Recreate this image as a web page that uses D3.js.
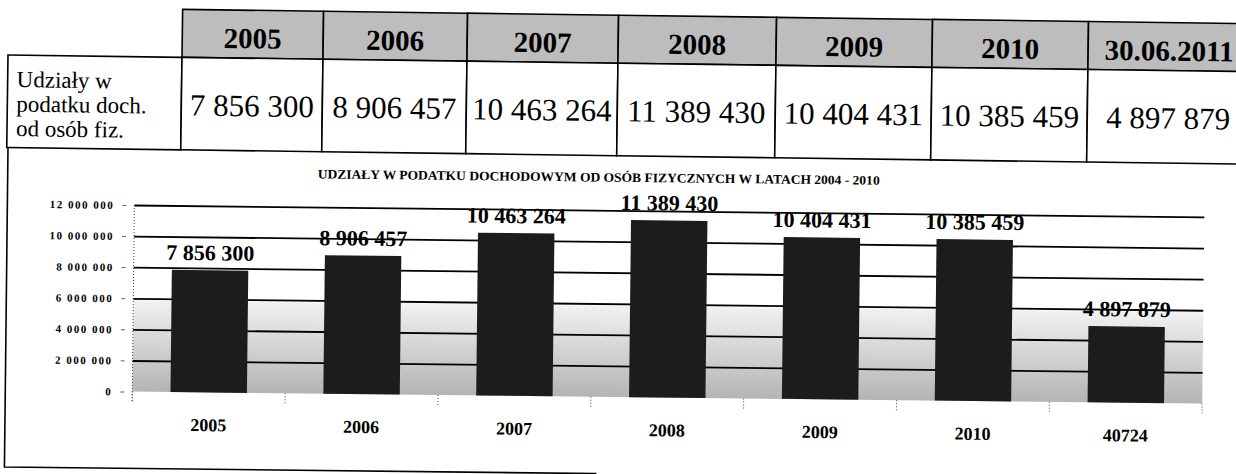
<!DOCTYPE html>
<html>
<head>
<meta charset="utf-8">
<script src="https://cdn.jsdelivr.net/npm/d3@7"></script>
<style>
  body { margin: 0; background: #fff; }
  svg { display: block; }
</style>
</head>
<body>
<script>
// dane
const headerLabels = ["2005", "2006", "2007", "2008", "2009", "2010", "30.06.2011"];
const values = [7856300, 8906457, 10463264, 11389430, 10404431, 10385459, 4897879];
const chartLabels = ["2005", "2006", "2007", "2008", "2009", "2010", "40724"];
const yTicks = [0, 2000000, 4000000, 6000000, 8000000, 10000000, 12000000];
const rowLabel = ["Udziały w", "podatku doch.", "od osób fiz."];
const chartTitle = "UDZIAŁY W PODATKU DOCHODOWYM OD OSÓB FIZYCZNYCH W LATACH 2004 - 2010";

const width = 1236;
const height = 474;
const serif = "'Liberation Serif','Times New Roman',serif";
const fmt = d3.formatLocale({ decimal: ",", thousands: " ", grouping: [3], currency: ["", ""] }).format(",d");

const svg = d3.select("body").append("svg")
  .attr("width", width)
  .attr("height", height);

// tabela (skan lekko przekrzywiony)
const colEdges = [182, 323, 467, 618, 776, 932, 1088, 1250];
const hTop = 7, hBot = 55, dBot = 147.5;
const tbl = svg.append("g").attr("transform", "rotate(0.77,8,55)");

tbl.selectAll("rect.hdr")
  .data(headerLabels)
  .join("rect")
  .attr("class", "hdr")
  .attr("x", (d, i) => colEdges[i])
  .attr("y", hTop)
  .attr("width", (d, i) => colEdges[i + 1] - colEdges[i])
  .attr("height", hBot - hTop)
  .attr("fill", "#bdbdbd")
  .attr("stroke", "#000")
  .attr("stroke-width", 1.6);

tbl.selectAll("text.hdr")
  .data(headerLabels)
  .join("text")
  .attr("class", "hdr")
  .attr("x", (d, i) => (colEdges[i] + colEdges[i + 1]) / 2)
  .attr("y", 45)
  .attr("text-anchor", "middle")
  .attr("font-family", serif)
  .attr("font-weight", "bold")
  .attr("font-size", 29)
  .text(d => d);

tbl.append("rect")
  .attr("x", 8).attr("y", hBot)
  .attr("width", colEdges[0] - 8).attr("height", dBot - hBot)
  .attr("fill", "#fff").attr("stroke", "#000").attr("stroke-width", 1.6);

tbl.selectAll("rect.val")
  .data(values)
  .join("rect")
  .attr("class", "val")
  .attr("x", (d, i) => colEdges[i])
  .attr("y", hBot)
  .attr("width", (d, i) => colEdges[i + 1] - colEdges[i])
  .attr("height", dBot - hBot)
  .attr("fill", "#fff")
  .attr("stroke", "#000")
  .attr("stroke-width", 1.6);

tbl.selectAll("text.val")
  .data(values)
  .join("text")
  .attr("class", "val")
  .attr("x", (d, i) => (colEdges[i] + colEdges[i + 1]) / 2)
  .attr("y", 113)
  .attr("text-anchor", "middle")
  .attr("font-family", serif)
  .attr("font-size", 31)
  .text(d => fmt(d));

tbl.append("text")
  .attr("font-family", serif)
  .attr("font-size", 23)
  .selectAll("tspan")
  .data(rowLabel)
  .join("tspan")
  .attr("x", 17)
  .attr("y", (d, i) => 87 + i * 24.5)
  .text(d => d);

// wykres
const ch = svg.append("g").attr("transform", "rotate(0.64,8,147.5)");

ch.append("path")
  .attr("d", "M8,147.5V467H600")
  .attr("fill", "none")
  .attr("stroke", "#000")
  .attr("stroke-width", 1.6);

const x = d3.scaleBand()
  .domain(chartLabels)
  .range([135, 1205])
  .paddingInner(0.5)
  .paddingOuter(0.25);

const y = d3.scaleLinear()
  .domain([0, 12000000])
  .range([390.2, 203.6]);

const grad = svg.append("defs").append("linearGradient")
  .attr("id", "bg")
  .attr("x1", 0).attr("y1", 0).attr("x2", 0).attr("y2", 1);
grad.append("stop").attr("offset", 0).attr("stop-color", "#fff");
grad.append("stop").attr("offset", 0.5).attr("stop-color", "#fff");
grad.append("stop").attr("offset", 0.52).attr("stop-color", "#f0f0f0");
grad.append("stop").attr("offset", 1).attr("stop-color", "#b4b4b4");

ch.append("rect")
  .attr("x", 135)
  .attr("y", y(12000000))
  .attr("width", 1205 - 135)
  .attr("height", y(0) - y(12000000))
  .attr("fill", "url(#bg)");

// linie siatki i etykiety osi Y
const yAxis = ch.append("g")
  .attr("transform", "translate(135,0)")
  .call(d3.axisLeft(y).tickValues(yTicks).tickSize(-(1205 - 135)).tickPadding(20).tickFormat(fmt));
yAxis.select(".domain").remove();
yAxis.selectAll(".tick line")
  .attr("stroke", "#000")
  .attr("stroke-width", 1.8)
  .attr("opacity", d => d === 0 ? 0 : 1);
yAxis.selectAll(".tick text")
  .attr("font-family", serif)
  .attr("font-weight", "bold")
  .attr("font-size", 11)
  .attr("letter-spacing", 1.5)
  .attr("fill", "#000");
yAxis.selectAll(".tick").append("line")
  .attr("x1", -12).attr("x2", -8)
  .attr("stroke", "#666").attr("stroke-width", 1);

// kropkowana oś pionowa i znaczniki kategorii
ch.append("line")
  .attr("x1", 135).attr("x2", 135)
  .attr("y1", y(12000000)).attr("y2", y(0) + 10)
  .attr("stroke", "#444").attr("stroke-dasharray", "1,2");
ch.selectAll("line.xt")
  .data(d3.range(chartLabels.length + 1))
  .join("line")
  .attr("class", "xt")
  .attr("x1", i => 135 + i * x.step()).attr("x2", i => 135 + i * x.step())
  .attr("y1", y(0)).attr("y2", y(0) + 10)
  .attr("stroke", "#444").attr("stroke-dasharray", "1,2");

// słupki
ch.selectAll("rect.bar")
  .data(values)
  .join("rect")
  .attr("class", "bar")
  .attr("x", (d, i) => x(chartLabels[i]))
  .attr("y", d => y(d))
  .attr("width", x.bandwidth())
  .attr("height", d => y(0) - y(d))
  .attr("fill", "#1c1c1c");

ch.selectAll("text.lbl")
  .data(values)
  .join("text")
  .attr("class", "lbl")
  .attr("x", (d, i) => x(chartLabels[i]) + x.bandwidth() / 2)
  .attr("y", d => y(d) - 10)
  .attr("text-anchor", "middle")
  .attr("font-family", serif)
  .attr("font-weight", "bold")
  .attr("font-size", 22)
  .text(d => fmt(d));

const xAxis = ch.append("g")
  .attr("transform", `translate(0,${y(0)})`)
  .call(d3.axisBottom(x).tickSize(0).tickPadding(26));
xAxis.select(".domain").remove();
xAxis.selectAll(".tick text")
  .attr("font-family", serif)
  .attr("font-weight", "bold")
  .attr("font-size", 18)
  .attr("fill", "#000");

ch.append("text")
  .attr("x", 318)
  .attr("y", 175)
  .attr("textLength", 562)
  .attr("lengthAdjust", "spacingAndGlyphs")
  .attr("font-family", serif)
  .attr("font-weight", "bold")
  .attr("font-size", 13)
  .text(chartTitle);
</script>
</body>
</html>
